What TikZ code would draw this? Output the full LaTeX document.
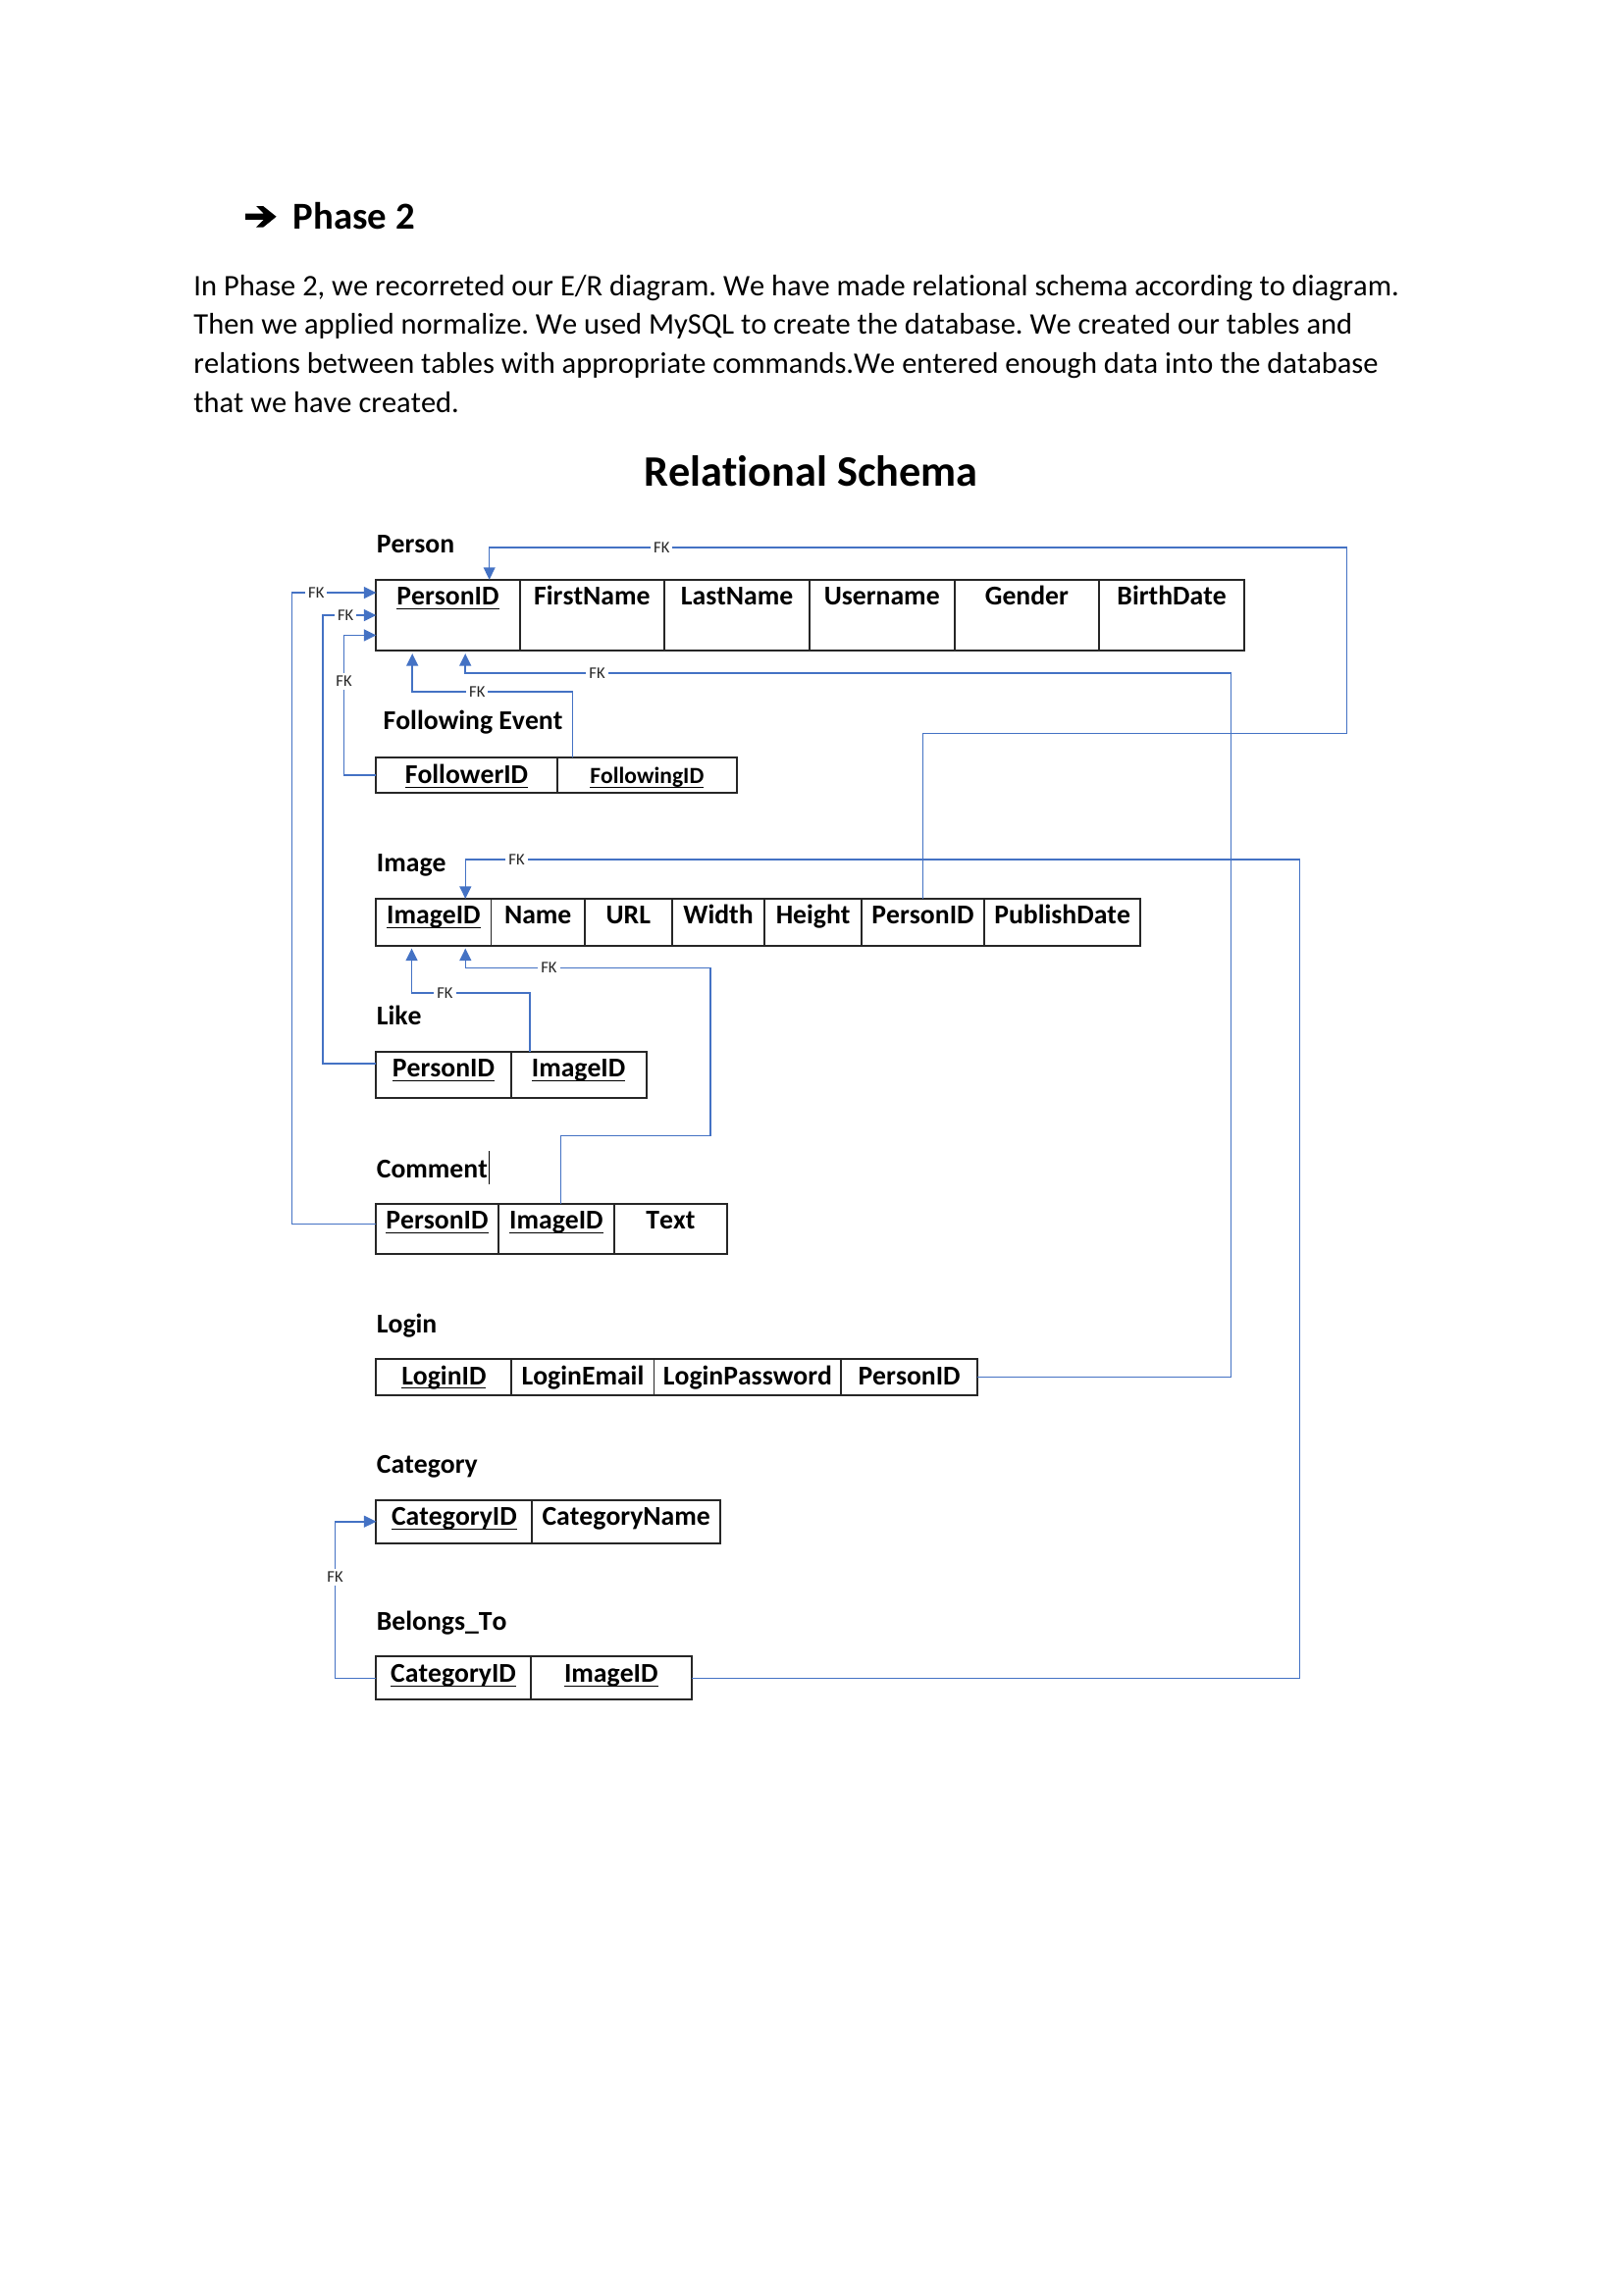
\documentclass[tikz,border=0pt]{standalone}
\usepackage{fontspec}
\setmainfont{Carlito}[Kerning=Off,Ligatures=NoCommon]
\usetikzlibrary{arrows.meta,positioning}
\definecolor{fkblue}{RGB}{68,114,196}
\newcommand{\pu}{0.018939cm}
\newcommand{\pk}[1]{\underline{\smash{#1}}}
\frenchspacing

\begin{document}
\begin{tikzpicture}[>={Triangle[length=4.5pt,width=4.3pt]},x=\pu,y=-\pu,
	cell/.style={draw=black!85,line width=0.7pt,inner sep=0pt,outer sep=0pt,font=\bfseries\fontsize{10}{12}\selectfont,text height=3.3mm,text depth=#1},
	tname/.style={anchor=base west,inner sep=0pt,font=\bfseries\fontsize{10}{12}\selectfont},
	fk/.style={draw=fkblue,line width=0.55pt},
	fklab/.style={fill=white,inner xsep=1.1pt,inner ysep=1.2pt,font=\fontsize{6}{7}\selectfont,text=black!85}]
	\useasboundingbox (0,0) rectangle (1108.8,1568);
	% heading and text
	\fill (167.6,145.9) -- (180.2,145.9) -- (175,140.8) -- (179.8,140.8) -- (188.8,148) -- (179.8,155.3) -- (175,155.3) -- (180.2,150.1) -- (167.6,150.1) -- cycle;
	\node[anchor=base west,inner sep=0pt,font=\bfseries\fontsize{14}{17}\selectfont] (phase) at (200,156.4) {Phase 2};
	\node[anchor=north west,inner sep=0pt,align=left,font=\fontsize{11}{14.3}\selectfont] (intro) at (132,187.5) {In Phase 2, we recorreted our E/R diagram. We have made relational schema according to diagram.\\Then we applied normalize. We used MySQL to create the database. We created our tables and\\relations between tables with appropriate commands.We entered enough data into the database\\that we have created.};
	\node[anchor=base,inner sep=0pt,font=\bfseries\fontsize{16}{19}\selectfont] (title) at (554,332) {Relational Schema};

	% Person
	\node[tname] (lperson) at (257,377.6) {Person};
	\node[cell=5.92mm,minimum width=98*\pu,anchor=north west] (p1) at (257,396) {\pk{PersonID}};
	\node[cell=5.92mm,minimum width=99*\pu,right=0pt of p1] (p2) {FirstName};
	\node[cell=5.92mm,minimum width=99*\pu,right=0pt of p2] (p3) {LastName};
	\node[cell=5.92mm,minimum width=99*\pu,right=0pt of p3] (p4) {Username};
	\node[cell=5.92mm,minimum width=99*\pu,right=0pt of p4] (p5) {Gender};
	\node[cell=5.92mm,minimum width=99*\pu,right=0pt of p5] (p6) {BirthDate};

	% Following Event
	\node[tname] (lfollow) at (261.5,498.5) {Following Event};
	\node[cell=1.19mm,minimum width=123.5*\pu,anchor=north west] (fe1) at (257,517.7) {\pk{FollowerID}};
	\node[cell=1.19mm,minimum width=123*\pu,right=0pt of fe1,font=\bfseries\fontsize{8.5}{10}\selectfont] (fe2) {\pk{FollowingID}};

	% Image
	\node[tname] (limage) at (257,595.5) {Image};
	\node[cell=2.78mm,minimum width=78.5*\pu,anchor=north west] (img1) at (257,614) {\pk{ImageID}};
	\node[cell=2.78mm,minimum width=64*\pu,right=0pt of img1] (img2) {Name};
	\node[cell=2.78mm,minimum width=59.5*\pu,right=0pt of img2] (img3) {URL};
	\node[cell=2.78mm,minimum width=63.5*\pu,right=0pt of img3] (img4) {Width};
	\node[cell=2.78mm,minimum width=66*\pu,right=0pt of img4] (img5) {Height};
	\node[cell=2.78mm,minimum width=84*\pu,right=0pt of img5] (img6) {PersonID};
	\node[cell=2.78mm,minimum width=106.5*\pu,right=0pt of img6] (img7) {PublishDate};

	% Like
	\node[tname] (llike) at (257,700) {Like};
	\node[cell=2.72mm,minimum width=92*\pu,anchor=north west] (lk1) at (257,718.4) {\pk{PersonID}};
	\node[cell=2.72mm,minimum width=92.5*\pu,right=0pt of lk1] (lk2) {\pk{ImageID}};

	% Comment
	\node[tname] (lcomment) at (257,804.5) {Comment};
	\draw[line width=0.35pt] ([xshift=0.3pt,yshift=-0.83mm]lcomment.base east) -- ++(0,-22.3);
	\node[cell=3.18mm,minimum width=83.3*\pu,anchor=north west] (cm1) at (257,822.3) {\pk{PersonID}};
	\node[cell=3.18mm,minimum width=79.5*\pu,right=0pt of cm1] (cm2) {\pk{ImageID}};
	\node[cell=3.18mm,minimum width=76.7*\pu,right=0pt of cm2] (cm3) {Text};

	% Login
	\node[tname] (llogin) at (257,910.6) {Login};
	\node[cell=1.34mm,minimum width=92.5*\pu,anchor=north west] (lg1) at (257,928.5) {\pk{LoginID}};
	\node[cell=1.34mm,minimum width=97.3*\pu,right=0pt of lg1] (lg2) {LoginEmail};
	\node[cell=1.34mm,minimum width=128*\pu,right=0pt of lg2] (lg3) {LoginPassword};
	\node[cell=1.34mm,minimum width=92.7*\pu,right=0pt of lg3] (lg4) {PersonID};

	% Category
	\node[tname] (lcategory) at (257,1006.7) {Category};
	\node[cell=2.29mm,minimum width=106.6*\pu,anchor=north west] (ct1) at (257,1024.8) {\pk{CategoryID}};
	\node[cell=2.29mm,minimum width=128.4*\pu,right=0pt of ct1] (ct2) {CategoryName};

	% Belongs_To
	\node[tname] (lbelongs) at (257,1114) {Belongs\_To};
	\node[cell=2.29mm,minimum width=105.5*\pu,anchor=north west] (bt1) at (257,1131.8) {\pk{CategoryID}};
	\node[cell=2.29mm,minimum width=110*\pu,right=0pt of bt1] (bt2) {\pk{ImageID}};

	% foreign keys
	\draw[fk,->] (img6.north) |- (920,501) |- (452,374) node[fklab] (fk1) {FK} -| ([xshift=28.3*\pu]p1.north);
	\draw[fk,->] (lg4.east) -| (841,460) -- (408,460) node[fklab] (fk2) {FK} -| ([xshift=11.9*\pu,yshift=-1pt]p1.south);
	\draw[fk,->] ([xshift=10.7*\pu]fe2.north west) |- (326,472.6) node[fklab] (fk3) {FK} -| ([xshift=-24.3*\pu,yshift=-1pt]p1.south);
	\draw[fk,->] (fe1.west) -| (235,465.5) node[fklab] (fk4) {FK} |- ([yshift=-13.65*\pu]p1.west);
	\draw[fk,->] ([yshift=7.6*\pu]lk1.west) -| ([xshift=-36.6*\pu]p1.west) -- node[fklab,pos=0.43] (fk5) {FK} (p1.west);
	\draw[fk,->] ([yshift=3.2*\pu]cm1.west) -| ([xshift=-57.7*\pu,yshift=15.4*\pu]p1.west) -- node[fklab,pos=0.29] (fk6) {FK} ([yshift=15.4*\pu]p1.west);
	\draw[fk,->] (bt2.east) -| (888,587.3) -- (353,587.3) node[fklab] (fk7) {FK} -| ([xshift=21.7*\pu]img1.north);
	\draw[fk,->] ([xshift=13*\pu]lk2.north west) |- (304,678.4) node[fklab] (fk8) {FK} -| ([xshift=-15*\pu,yshift=-1pt]img1.south);
	\draw[fk,->] ([xshift=42.9*\pu]cm2.north west) |- (485.4,775.9) |- (375,661.4) node[fklab] (fk9) {FK} -| ([xshift=21.7*\pu,yshift=-1pt]img1.south);
	\draw[fk,->] (bt1.west) -| (229,1077.5) node[fklab] (fk10) {FK} |- (ct1.west);
\end{tikzpicture}
\end{document}
